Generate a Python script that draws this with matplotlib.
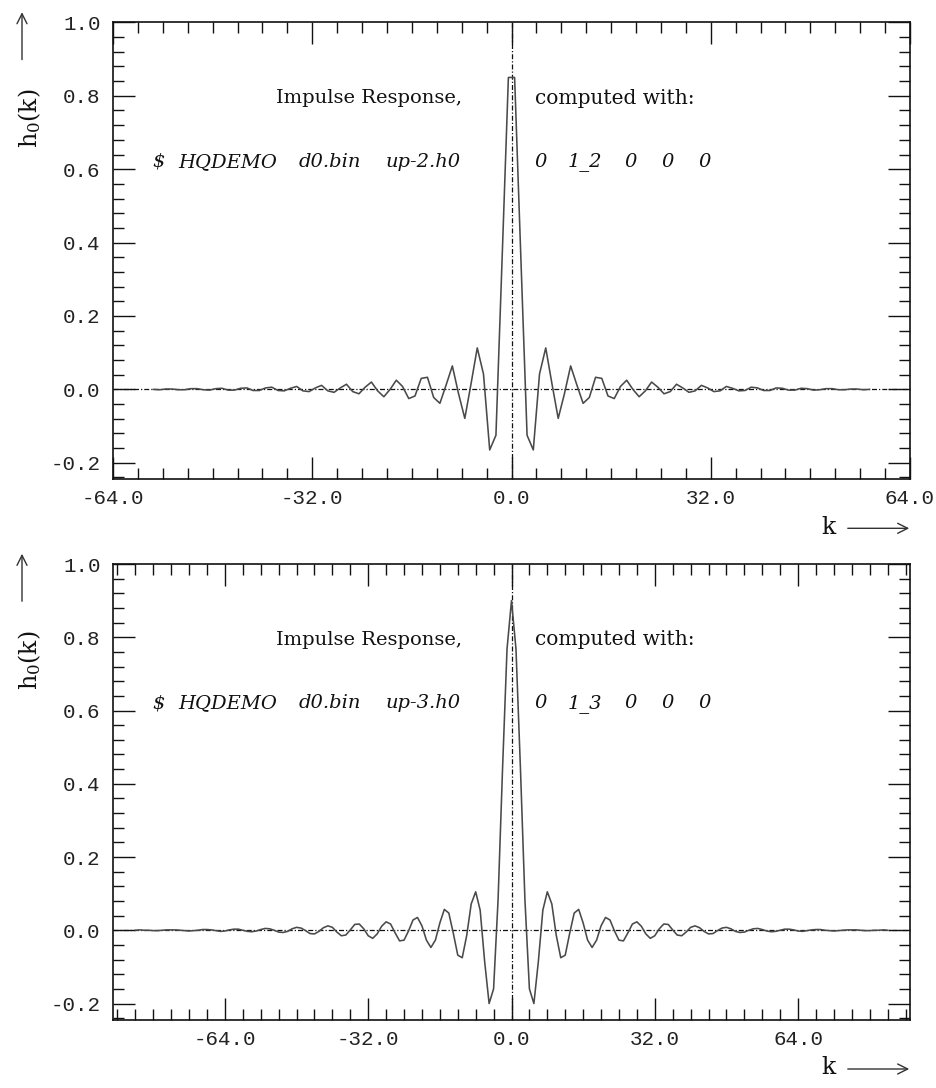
import numpy as np
import matplotlib
matplotlib.use("Agg")
import matplotlib.pyplot as plt
from matplotlib.ticker import MultipleLocator, FixedLocator

# ---------------- data ----------------
# top panel: samples at half-integer k
k_top = np.arange(-57.5, 58.0, 1.0)
h_top_neg = [0.000, -0.001, 0.001, 0.001, -0.001, -0.001, 0.002, 0.002,
             -0.001, -0.002, 0.002, 0.003, -0.002, -0.002, 0.003, 0.004, -0.003, -0.003,
             0.004, 0.006, -0.003, -0.004, 0.003, 0.008, -0.004, -0.006, 0.004, 0.011,
             -0.004, -0.008, 0.004, 0.014, -0.006, -0.012, 0.006, 0.020, -0.004, -0.020,
             0.000, 0.025, 0.008, -0.025, -0.018, 0.030, 0.033, -0.022, -0.038, 0.012,
             0.064, -0.012, -0.079, 0.015, 0.113, 0.042, -0.165, -0.125, 0.360, 0.850]
h_top_pos = [0.850, 0.360, -0.125, -0.165, 0.042, 0.113, 0.015, -0.079, -0.012, 0.064,
             0.012, -0.038, -0.022, 0.033, 0.030, -0.018, -0.025, 0.008, 0.025, 0.000,
             -0.020, -0.004, 0.020, 0.006, -0.012, -0.006, 0.014, 0.004, -0.008, -0.004,
             0.011, 0.004, -0.006, -0.004, 0.008, 0.003, -0.004, -0.003, 0.006, 0.004,
             -0.003, -0.003, 0.004, 0.003, -0.002, -0.002, 0.003, 0.002, -0.002, -0.001,
             0.002, 0.002, -0.001, -0.001, 0.001, 0.001, -0.001, 0.000]

# bottom panel: samples at integer k
k_bot = np.arange(-84, 85)
h_bot_neg = [0.000, 0.001, 0.000, 0.000, -0.001,
             -0.001, 0.000, 0.001, 0.001, 0.001, 0.000, -0.001, -0.002, -0.001, 0.000,
             0.002, 0.002, 0.001, -0.001, -0.003, -0.002, 0.001, 0.003, 0.003, 0.000,
             -0.003, -0.004, -0.002, 0.002, 0.005, 0.004, 0.000, -0.005, -0.006, -0.003,
             0.004, 0.008, 0.006, -0.001, -0.009, -0.010, -0.003, 0.007, 0.012, 0.008,
             -0.005, -0.015, -0.013, 0.001, 0.016, 0.017, 0.004, -0.015, -0.022, -0.010,
             0.011, 0.023, 0.017, -0.007, -0.029, -0.027, -0.002, 0.028, 0.035, 0.012,
             -0.027, -0.047, -0.027, 0.020, 0.057, 0.047, -0.008, -0.068, -0.075, -0.014,
             0.072, 0.105, 0.055, -0.085, -0.200, -0.160, 0.083, 0.441, 0.768]
h_bot_pos = [0.900, 0.768, 0.441, 0.083, -0.160, -0.200, -0.085, 0.055, 0.105, 0.072,
             -0.014, -0.075, -0.068, -0.008, 0.047, 0.057, 0.020, -0.027, -0.047, -0.027,
             0.012, 0.035, 0.028, -0.002, -0.027, -0.029, -0.007, 0.017, 0.023, 0.011,
             -0.010, -0.022, -0.015, 0.004, 0.017, 0.016, 0.001, -0.013, -0.015, -0.005,
             0.008, 0.012, 0.007, -0.003, -0.010, -0.009, -0.001, 0.006, 0.008, 0.004,
             -0.003, -0.006, -0.005, 0.000, 0.004, 0.005, 0.002, -0.002, -0.004, -0.003,
             0.000, 0.003, 0.003, 0.001, -0.002, -0.003, -0.001, 0.001, 0.002, 0.002,
             0.000, -0.001, -0.002, -0.001, 0.000, 0.001, 0.001, 0.001, 0.000, -0.001,
             -0.001, 0.000, 0.000, 0.001, 0.000]

x_major = [-64, -32, 0, 32, 64]
x_labels = ["-64.0", "-32.0", "0.0", "32.0", "64.0"]
y_major = [-0.2, 0.0, 0.2, 0.4, 0.6, 0.8, 1.0]
y_labels = ["-0.2", "0.0", "0.2", "0.4", "0.6", "0.8", "1.0"]

text_left = "Impulse Response,"
text_right = "computed with:"
cmd_top = ["$", "HQDEMO", "d0.bin", "up-2.h0"]
arg_top = ["0", "1_2", "0", "0", "0"]
cmd_bot = ["$", "HQDEMO", "d0.bin", "up-3.h0"]
arg_bot = ["0", "1_3", "0", "0", "0"]

# ---------------- figure ----------------
W, H = 936, 1088
fig = plt.figure(figsize=(W / 100, H / 100), dpi=100)
plt.rcParams['mathtext.fontset'] = 'dejavuserif'

L, R = 113, 910
panels = [
    dict(top=22.4, bottom=479.3, k=k_top, h=h_top_neg + h_top_pos, xlim=(-64, 64),
         cmd=cmd_top, arg=arg_top),
    dict(top=564.0, bottom=1020.0, k=k_bot, h=h_bot_neg + h_bot_pos, xlim=(-89, 89),
         cmd=cmd_bot, arg=arg_bot),
]

tick_font = dict(family='Liberation Mono', size=15, color='#222222')
ink = '#111111'
cmd_cx = [159, 228, 330, 423]
arg_cx = [541, 585, 631, 668, 705]

def fx(px):
    return (px - L) / (R - L)

for p in panels:
    ax = fig.add_axes([L / W, 1 - p['bottom'] / H, (R - L) / W, (p['bottom'] - p['top']) / H])
    ax.plot(p['k'], p['h'], color='#4a4a4a', lw=1.15, zorder=3)
    ax.axhline(0, color=ink, lw=0.9, ls=(0, (4, 1.6, 1, 1.6)), zorder=2)
    ax.axvline(0, color=ink, lw=0.9, ls=(0, (4, 1.6, 1, 1.6)), zorder=2)
    ax.set_xlim(*p['xlim'])
    ax.set_ylim(-0.245, 1.0)
    ax.xaxis.set_major_locator(FixedLocator(x_major))
    ax.set_xticklabels(x_labels, **tick_font)
    ax.xaxis.set_minor_locator(MultipleLocator(4))
    ax.yaxis.set_major_locator(FixedLocator(y_major))
    ax.set_yticklabels(y_labels, **tick_font)
    ax.yaxis.set_minor_locator(MultipleLocator(0.04))
    ax.tick_params(which='both', direction='in', top=True, right=True, color=ink, width=1.0)
    ax.tick_params(which='major', length=15.5)
    ax.tick_params(which='minor', length=7.8)
    ax.tick_params(axis='x', which='major', pad=7)
    ax.tick_params(axis='y', which='major', pad=9)
    for s in ax.spines.values():
        s.set_linewidth(1.2)
        s.set_color(ink)

    # annotation texts (axes fraction)
    ax.text(fx(462), 0.834, text_left, transform=ax.transAxes, ha='right', va='center',
            family='DejaVu Serif', size=14, color=ink)
    ax.text(fx(535), 0.834, text_right, transform=ax.transAxes, ha='left', va='center',
            family='DejaVu Serif', size=14.5, color=ink)
    for word, cx in zip(p['cmd'], cmd_cx):
        ax.text(fx(cx), 0.695, word, transform=ax.transAxes, ha='center', va='center',
                family='DejaVu Serif', style='italic', size=14, color=ink)
    for word, cx in zip(p['arg'], arg_cx):
        ax.text(fx(cx), 0.695, word, transform=ax.transAxes, ha='center', va='center',
                family='DejaVu Serif', style='italic', size=14, color=ink)

    # y label with upward arrow
    top = p['top']
    fig.text(30 / W, 1 - (top + 96) / H, r'h$_0$(k)', rotation=90, ha='center', va='center',
             family='DejaVu Serif', size=17, color=ink)
    fig.add_artist(matplotlib.patches.FancyArrowPatch(
        (22 / W, 1 - (top + 40) / H), (22 / W, 1 - (top - 13) / H),
        transform=fig.transFigure, arrowstyle='->', mutation_scale=18, lw=1.0, color='#333333'))

    # x label with right arrow
    bot = p['bottom']
    fig.text(829 / W, 1 - (bot + 48) / H, 'k', ha='center', va='center',
             family='DejaVu Serif', size=17, color=ink)
    fig.add_artist(matplotlib.patches.FancyArrowPatch(
        (845 / W, 1 - (bot + 49) / H), (912 / W, 1 - (bot + 49) / H),
        transform=fig.transFigure, arrowstyle='->', mutation_scale=18, lw=1.0, color='#333333'))

fig.savefig('out.png', dpi=100)
